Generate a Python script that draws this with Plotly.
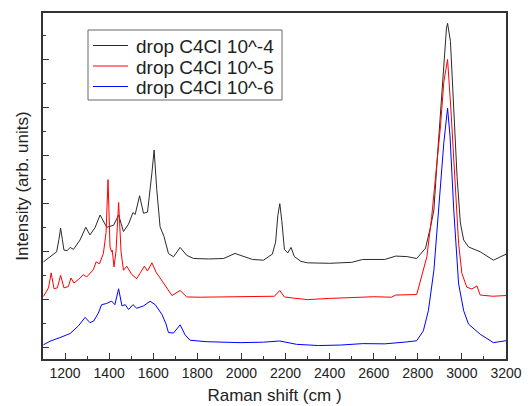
import plotly.graph_objects as go

# ---- data ----
x_1e4 = [1102, 1132, 1162, 1172, 1180, 1188, 1195, 1210, 1223, 1238, 1268, 1294, 1313, 1336, 1359, 1389, 1420,
         1443, 1465, 1488, 1508, 1518, 1538, 1556, 1574, 1594, 1604, 1616, 1631, 1649, 1669, 1692, 1722, 1752,
         1783, 1850, 1919, 1971, 1994, 2050, 2100, 2140, 2155, 2165, 2174, 2183, 2195, 2210, 2225, 2240, 2270,
         2300, 2400, 2500, 2550, 2650, 2700, 2750, 2795, 2835, 2858, 2873, 2888, 2903, 2918, 2930, 2935, 2948,
         2963, 2978, 2993, 3008, 3030, 3083, 3143, 3200]
y_1e4 = [3.58, 3.79, 4.0, 4.5, 4.98, 4.5, 4.07, 4.05, 4.18, 4.1, 4.49, 5.02, 4.7, 5.0, 5.53, 5.02, 5.1,
         5.53, 4.84, 5.15, 5.63, 5.55, 6.33, 5.6, 5.65, 7.28, 8.23, 6.58, 5.04, 4.63, 3.93, 3.79, 4.18, 3.85,
         3.72, 3.70, 3.72, 3.93, 3.85, 3.68, 3.65, 3.9, 4.4, 5.5, 6.0, 5.3, 4.1, 3.95, 4.18, 3.8, 3.6,
         3.54, 3.52, 3.56, 3.68, 3.68, 3.82, 3.8, 3.72, 4.15, 5.04, 5.74, 7.84, 9.94, 12.03, 13.3, 13.5, 12.75,
         9.94, 7.13, 5.2, 4.49, 4.2, 4.0, 3.65, 3.9]

x_1e5 = [1102, 1125, 1137, 1150, 1165, 1180, 1195, 1215, 1227, 1240, 1261, 1283, 1298, 1313, 1328, 1341, 1356,
         1374, 1386, 1395, 1404, 1411, 1414, 1422, 1431, 1443, 1454, 1465, 1480, 1503, 1525, 1543, 1560, 1574,
         1594, 1613, 1639, 1658, 1685, 1722, 1752, 1813, 1900, 2000, 2100, 2150, 2174, 2195, 2230, 2300, 2400,
         2500, 2600, 2680, 2700, 2795, 2818, 2841, 2863, 2888, 2903, 2918, 2935, 2950, 2970, 2985, 3000, 3022,
         3045, 3068, 3083, 3140, 3200]
y_1e5 = [2.14, 2.5, 3.12, 2.46, 2.5, 3.02, 2.5, 2.55, 2.91, 2.7, 2.85, 3.05, 2.95, 3.1, 3.25, 3.58, 3.5,
         3.93, 4.8, 7.0, 4.2, 4.0, 4.07, 3.37, 4.0, 6.05, 4.0, 3.23, 3.4, 3.05, 2.88, 3.15, 3.4, 3.2,
         3.54, 3.15, 2.8, 2.5, 2.18, 2.39, 2.12, 2.11, 2.12, 2.11, 2.12, 2.15, 2.39, 2.12, 2.08, 2.01, 2.06,
         2.11, 2.13, 2.11, 2.2, 2.22, 2.95, 3.79, 5.46, 7.84, 9.24, 11.07, 12.0, 9.94, 6.45, 4.35, 3.1, 2.53,
         2.45, 2.58, 2.2, 2.15, 2.18]

x_1e6 = [1102, 1132, 1177, 1223, 1261, 1291, 1313, 1330, 1351, 1366, 1389, 1411, 1426, 1443, 1458, 1473, 1488,
         1508, 1525, 1556, 1586, 1609, 1639, 1658, 1669, 1692, 1722, 1744, 1767, 1843, 1994, 2100, 2174, 2250,
         2350, 2450, 2550, 2650, 2750, 2795, 2825, 2848, 2873, 2895, 2918, 2935, 2946, 2963, 2985, 3008, 3030,
         3083, 3143, 3200]
y_1e6 = [0.13, 0.28, 0.43, 0.6, 0.92, 1.27, 1.05, 1.12, 1.45, 1.8, 1.85, 1.95, 1.8, 2.46, 1.75, 1.8, 1.6,
         1.8, 1.65, 1.75, 1.94, 1.8, 1.4, 1.0, 0.64, 0.62, 0.96, 0.55, 0.32, 0.26, 0.22, 0.24, 0.29, 0.15,
         0.1, 0.12, 0.18, 0.17, 0.25, 0.3, 0.71, 1.55, 3.23, 5.74, 8.54, 9.97, 8.82, 5.74, 2.67, 1.55, 0.99,
         0.57, 0.22, 0.3]

series_names = ["drop C4Cl 10^-4", "drop C4Cl 10^-5", "drop C4Cl 10^-6"]
series_colors = ["#2a2a2a", "#ff0000", "#0000ff"]

x_ticks = [1200, 1400, 1600, 1800, 2000, 2200, 2400, 2600, 2800, 3000, 3200]

W, H = 532, 406
ML, MR, MT, MB = 43, 26, 13, 47
PW, PH = W - ML - MR, H - MT - MB


def px_to_paper_x(px):
    return (px - ML) / PW


def px_to_paper_y(py):
    return (H - MB - py) / PH


font_family = "Liberation Sans, Arial, sans-serif"

fig = go.Figure()
for xs, ys, name, col in zip([x_1e4, x_1e5, x_1e6], [y_1e4, y_1e5, y_1e6], series_names, series_colors):
    fig.add_trace(go.Scatter(x=xs, y=ys, mode="lines", name=name,
                             line=dict(color=col, width=1)))

# legend drawn as box + sample lines + text (to match the compact row spacing)
legend_box = dict(x0=88, x1=282, y0=30, y1=100)
legend_rows_y = [45.5, 66, 86.5]
shapes = [dict(type="rect", xref="paper", yref="paper",
               x0=px_to_paper_x(legend_box["x0"]), x1=px_to_paper_x(legend_box["x1"]),
               y0=px_to_paper_y(legend_box["y1"]), y1=px_to_paper_y(legend_box["y0"]),
               line=dict(color="#666", width=1), fillcolor="white", layer="above")]
annotations = []
for ry, name, col in zip(legend_rows_y, series_names, series_colors):
    shapes.append(dict(type="line", xref="paper", yref="paper",
                       x0=px_to_paper_x(93), x1=px_to_paper_x(128),
                       y0=px_to_paper_y(ry), y1=px_to_paper_y(ry),
                       line=dict(color=col, width=1), layer="above"))
    annotations.append(dict(text=name, xref="paper", yref="paper",
                            x=px_to_paper_x(134), y=px_to_paper_y(ry + 1),
                            xanchor="left", yanchor="middle", showarrow=False,
                            font=dict(size=19, family=font_family, color="#222")))

fig.update_layout(
    width=W, height=H,
    margin=dict(l=ML, r=MR, t=MT, b=MB),
    paper_bgcolor="white", plot_bgcolor="white",
    font=dict(family=font_family, color="#222"),
    showlegend=False,
    shapes=shapes, annotations=annotations,
)
fig.update_xaxes(
    range=[1100, 3200], tickvals=x_ticks, ticktext=[str(v) for v in x_ticks],
    ticks="inside", ticklen=6, tickwidth=1.2, tickcolor="#333",
    minor=dict(ticks="inside", ticklen=3, dtick=100, tick0=1100, tickcolor="#333", tickwidth=1.2),
    showline=True, linecolor="#333", linewidth=1.5, mirror=True,
    showgrid=False, zeroline=False,
    tickfont=dict(size=14, family=font_family, color="#222"),
    title=dict(text="Raman shift (cm )", font=dict(size=17, family=font_family, color="#222"), standoff=10),
    automargin=False,
)
fig.update_yaxes(
    range=[-0.46, 13.93], dtick=2, tick0=0,
    ticks="inside", ticklen=6, tickwidth=1.2, tickcolor="#333",
    minor=dict(ticks="inside", ticklen=3, dtick=1, tick0=1, tickcolor="#333", tickwidth=1.2),
    showticklabels=False,
    showline=True, linecolor="#333", linewidth=1.5, mirror=True,
    showgrid=False, zeroline=False,
    title=dict(text="Intensity (arb. units)", font=dict(size=17, family=font_family, color="#222"), standoff=8),
    automargin=False,
)

fig.write_html("out.html", config={"displayModeBar": False},
               post_script="document.body.style.margin='0px';document.body.style.overflow='hidden';")
